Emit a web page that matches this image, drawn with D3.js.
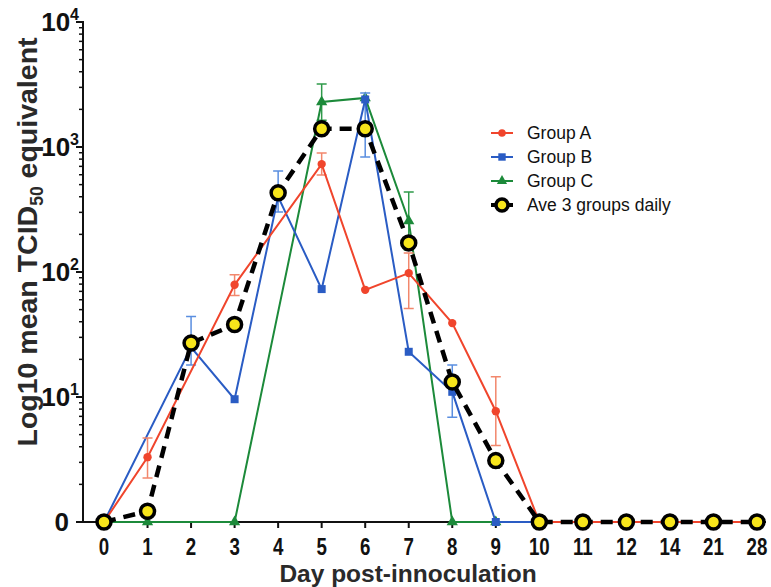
<!DOCTYPE html>
<html>
<head>
<meta charset="utf-8">
<script src="https://cdn.jsdelivr.net/npm/d3@7"></script>
<style>
  body { margin: 0; background: #fff; }
  svg { display: block; }
  .tick-lab { font-family: "Liberation Sans", Arial, sans-serif; font-weight: bold; fill: #111; }
  .title { font-family: "Liberation Sans", Arial, sans-serif; font-weight: bold; fill: #2a2a2a; }
  .legend text { font-family: "Liberation Sans", Arial, sans-serif; font-size: 17.5px; fill: #111; }
</style>
</head>
<body>
<svg id="chart" width="771" height="587"></svg>
<script>
// days sampled (categorical, evenly spaced)
const days = ['0', '1', '2', '3', '4', '5', '6', '7', '8', '9', '10', '11', '12', '14', '21', '28'];

// mean values, null = not sampled
const groupA = [0, 3.3, null, 79, null, 730, 72, 98, 39, 7.7, 0, 0, 0, 0, 0, 0];
const groupB = [0, null, 25, 9.6, 400, 73, 2400, 23, 11, 0, 0, 0, 0, 0, 0, 0];
const groupC = [0, 0, null, 0, null, 2290, 2470, 256, 0, 0, 0, 0, 0, 0, 0, 0];
const aveAll = [0, 1.22, 27, 38, 430, 1400, 1400, 171, 13.2, 3.1, 0, 0, 0, 0, 0, 0];

// error bars [day, low, high]
const errA = [['1', 2.25, 4.7], ['3', 65, 95], ['5', 597, 895], ['7', 51, 142], ['9', 4.1, 14.5]];
const errB = [['2', 18, 44], ['4', 302, 643], ['6', 830, 2700], ['8', 6.9, 18]];
const errC = [['5', 1640, 3190], ['7', 150, 437]];

const yTicks = [1, 10, 100, 1000, 10000];

const svg = d3.select('#chart');
const x = d3.scalePoint().domain(days).range([104, 757]);
const y = d3.scaleLog().domain([1, 10000]).range([522, 22]);
const yv = (v) => y(Math.max(v, 1));
const axisX = 83;

// axes
const axes = svg.append('g').attr('stroke', '#111').attr('stroke-width', 2);
axes.append('line').attr('x1', axisX).attr('x2', axisX).attr('y1', y(10000) - 1).attr('y2', y(1) + 1);
axes.append('line').attr('x1', axisX).attr('x2', 766).attr('y1', y(1)).attr('y2', y(1));

// y ticks major + minor
const minor = [];
yTicks.slice(0, -1).forEach((d) => { for (let k = 2; k <= 9; k++) minor.push(d * k); });
axes.selectAll('.minor').data(minor).join('line')
  .attr('x1', axisX - 4).attr('x2', axisX)
  .attr('y1', (d) => y(d)).attr('y2', (d) => y(d))
  .attr('stroke-width', 1.5);
axes.selectAll('.major').data(yTicks).join('line')
  .attr('x1', axisX - 7).attr('x2', axisX)
  .attr('y1', (d) => y(d)).attr('y2', (d) => y(d));

// x ticks
axes.selectAll('.xt').data(days).join('line')
  .attr('x1', (d) => x(d)).attr('x2', (d) => x(d))
  .attr('y1', y(1)).attr('y2', y(1) + 6);

// y tick labels
const yl = svg.append('g');
yTicks.forEach((d) => {
  const t = yl.append('text').attr('class', 'tick-lab').attr('text-anchor', 'end')
    .attr('y', y(d) + 9).style('font-size', '26px');
  if (d === 1) {
    t.attr('x', 69).text('0');
  } else {
    t.attr('x', 79);
    t.append('tspan').text('10');
    t.append('tspan').attr('dy', -11).style('font-size', '16px').text(Math.round(Math.log10(d)));
  }
});

// x tick labels (condensed look)
svg.append('g').selectAll('text').data(days).join('text')
  .attr('class', 'tick-lab').attr('text-anchor', 'middle')
  .attr('transform', (d) => `translate(${x(d)},555) scale(0.78,1)`)
  .style('font-size', '24px')
  .text((d) => d);

// titles
svg.append('text').attr('class', 'title').attr('text-anchor', 'middle')
  .attr('x', 408).attr('y', 582).style('font-size', '24.5px')
  .text('Day post-innoculation');
const yt = svg.append('text').attr('class', 'title').attr('text-anchor', 'middle')
  .attr('transform', 'translate(37,242) rotate(-90)').style('font-size', '28.5px');
yt.append('tspan').text('Log10 mean TCID');
yt.append('tspan').attr('dy', 6).style('font-size', '17.5px').text('50');
yt.append('tspan').attr('dy', -6).text(' equivalent');

// series
const series = [
  { name: 'Group C', vals: groupC, err: errC, color: '#1c8a3a', errColor: '#2f9a4a', shape: d3.symbolTriangle, size: 55 },
  { name: 'Group B', vals: groupB, err: errB, color: '#2a5cc4', errColor: '#5a8ee0', shape: d3.symbolSquare, size: 64 },
  { name: 'Group A', vals: groupA, err: errA, color: '#f0452c', errColor: '#f2876c', shape: d3.symbolCircle, size: 55 },
];

const line = d3.line().x((d) => x(d.day)).y((d) => yv(d.v));
const toPts = (vals) => days.map((day, i) => ({ day, v: vals[i] })).filter((d) => d.v !== null);

series.forEach((s) => {
  const g = svg.append('g');
  g.selectAll('.eb').data(s.err).join('path')
    .attr('fill', 'none').attr('stroke', s.errColor).attr('stroke-width', 1.5)
    .attr('d', (d) => {
      const cx = x(d[0]), y0 = y(d[1]), y1 = y(d[2]);
      return `M${cx - 5},${y0}H${cx + 5}M${cx},${y0}V${y1}M${cx - 5},${y1}H${cx + 5}`;
    });
  const pts = toPts(s.vals);
  g.append('path').datum(pts).attr('fill', 'none').attr('stroke', s.color)
    .attr('stroke-width', 2).attr('d', line);
  g.selectAll('.m').data(pts).join('path')
    .attr('transform', (d) => `translate(${x(d.day)},${yv(d.v)})`)
    .attr('d', d3.symbol(s.shape, s.size)).attr('fill', s.color);
});

// average of 3 groups
const avePts = toPts(aveAll);
svg.append('path').datum(avePts).attr('fill', 'none').attr('stroke', '#000')
  .attr('stroke-width', 4.5).attr('stroke-dasharray', '12,8').attr('d', line);
svg.append('g').selectAll('circle').data(avePts).join('circle')
  .attr('cx', (d) => x(d.day)).attr('cy', (d) => yv(d.v)).attr('r', 7)
  .attr('fill', '#f7e51b').attr('stroke', '#000').attr('stroke-width', 3.5);

// legend
const legendItems = [
  { name: 'Group A', color: '#f0452c', shape: d3.symbolCircle, size: 45 },
  { name: 'Group B', color: '#2a5cc4', shape: d3.symbolSquare, size: 55 },
  { name: 'Group C', color: '#1c8a3a', shape: d3.symbolTriangle, size: 45 },
  { name: 'Ave 3 groups daily', color: '#000', ave: true },
];
const lg = svg.append('g').attr('class', 'legend');
const ly = d3.scalePoint().domain(legendItems.map((d) => d.name)).range([133, 205]);
legendItems.forEach((it) => {
  const row = lg.append('g').attr('transform', `translate(502,${ly(it.name)})`);
  row.append('line').attr('x1', -11).attr('x2', 11)
    .attr('stroke', it.color).attr('stroke-width', it.ave ? 4 : 2);
  if (it.ave) {
    row.append('circle').attr('r', 6).attr('fill', '#f7e51b').attr('stroke', '#000').attr('stroke-width', 3.5);
  } else {
    row.append('path').attr('d', d3.symbol(it.shape, it.size)).attr('fill', it.color);
  }
  row.append('text').attr('x', 25).attr('y', 6).text(it.name);
});
</script>
</body>
</html>
